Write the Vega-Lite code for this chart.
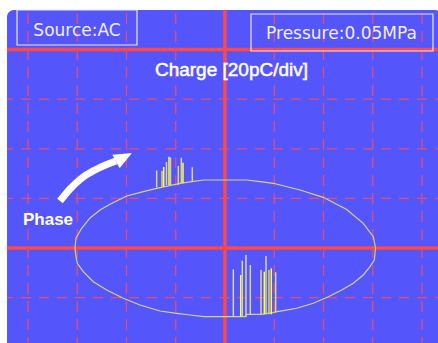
{
  "$schema": "https://vega.github.io/schema/vega-lite/v6.json",
  "width": 438,
  "height": 343,
  "autosize": {"type": "none"},
  "padding": 0,
  "background": "white",
  "config": {"view": {"stroke": null}},
  "datasets": {
    "panel": [{"x": -4.426, "x2": 4.406, "y": 95.97, "y2": -45.16}],
    "vgrid": [
      {"x": -4, "y": 95.97, "y2": -45}, {"x": -3, "y": 95.97, "y2": -45}, {"x": -2, "y": 95.97, "y2": -45},
      {"x": -1, "y": 95.97, "y2": -45}, {"x": 1, "y": 95.97, "y2": -45}, {"x": 2, "y": 95.97, "y2": -45},
      {"x": 3, "y": 95.97, "y2": -45}, {"x": 4, "y": 95.97, "y2": -45}
    ],
    "hgrid": [
      {"y": -20, "x": -4.426, "x2": 4.406}, {"y": 20, "x": -4.426, "x2": 4.406},
      {"y": 40, "x": -4.426, "x2": 4.406}, {"y": 60, "x": -4.426, "x2": 4.406}
    ],
    "axes": [
      {"x": 0, "x2": 0, "y": 95.97, "y2": -45},
      {"x": -4.426, "x2": 4.406, "y": 0, "y2": 0},
      {"x": -4.426, "x2": 4.406, "y": 80, "y2": 80}
    ],
    "trace": [
      {"i": 1, "x": -3.046, "y": 0}, {"i": 2, "x": -3.025, "y": 4.03}, {"i": 3, "x": -2.91, "y": 7.94},
      {"i": 4, "x": -2.741, "y": 12.1}, {"i": 5, "x": -2.538, "y": 15.32}, {"i": 6, "x": -2.335, "y": 17.62},
      {"i": 7, "x": -1.996, "y": 20.97}, {"i": 8, "x": -1.659, "y": 22.7}, {"i": 9, "x": -1.387, "y": 24.07},
      {"i": 10, "x": -0.914, "y": 26.09}, {"i": 11, "x": -0.676, "y": 26.73}, {"i": 12, "x": -0.426, "y": 27.42},
      {"i": 13, "x": 0.441, "y": 27.42}, {"i": 14, "x": 0.711, "y": 26.73}, {"i": 15, "x": 0.981, "y": 26.09},
      {"i": 16, "x": 1.523, "y": 23.39}, {"i": 17, "x": 1.996, "y": 20.44}, {"i": 18, "x": 2.471, "y": 15.52},
      {"i": 19, "x": 2.808, "y": 9.96}, {"i": 20, "x": 3.011, "y": 4.56}, {"i": 21, "x": 3.056, "y": 0},
      {"i": 22, "x": 3.032, "y": -4.84}, {"i": 23, "x": 2.944, "y": -7.54}, {"i": 24, "x": 2.808, "y": -10.89},
      {"i": 25, "x": 2.605, "y": -14.23}, {"i": 26, "x": 2.37, "y": -16.94}, {"i": 27, "x": 2.098, "y": -19.64},
      {"i": 28, "x": 1.793, "y": -22.3}, {"i": 29, "x": 1.456, "y": -24.31}, {"i": 30, "x": 1.184, "y": -25.28},
      {"i": 31, "x": 1.05, "y": -25.69}, {"i": 32, "x": 0.975, "y": -26.09}, {"i": 33, "x": 0.731, "y": -26.73},
      {"i": 34, "x": 0.441, "y": -26.73}, {"i": 35, "x": 0.42, "y": -27.7}, {"i": 36, "x": -0.426, "y": -27.7},
      {"i": 37, "x": -0.711, "y": -27.02}, {"i": 38, "x": -0.981, "y": -26.33}, {"i": 39, "x": -1.32, "y": -25.4},
      {"i": 40, "x": -1.726, "y": -22.98}, {"i": 41, "x": -2.065, "y": -20.28}, {"i": 42, "x": -2.402, "y": -16.94},
      {"i": 43, "x": -2.674, "y": -13.59}, {"i": 44, "x": -2.877, "y": -9.56}, {"i": 45, "x": -2.999, "y": -6.17},
      {"i": 46, "x": -3.025, "y": -3.51}, {"i": 47, "x": -3.046, "y": 0}
    ],
    "pulses": [
      {"x": -1.387, "y": 24.4, "y2": 31.25, "tone": "dim"},
      {"x": -1.279, "y": 24.72, "y2": 31.05, "tone": "dim"},
      {"x": -1.245, "y": 24.72, "y2": 32.66, "tone": "bright"},
      {"x": -1.188, "y": 25.4, "y2": 34.68, "tone": "dim"},
      {"x": -1.137, "y": 25.4, "y2": 36.81, "tone": "bright"},
      {"x": -1.107, "y": 25.4, "y2": 36.49, "tone": "dim"},
      {"x": -0.948, "y": 25.4, "y2": 33.06, "tone": "dim"},
      {"x": -0.887, "y": 26.09, "y2": 36.41, "tone": "dim"},
      {"x": -0.853, "y": 26.09, "y2": 34.4, "tone": "bright"},
      {"x": -0.664, "y": 26.73, "y2": 32.54, "tone": "dim"},
      {"x": 0.169, "y": -27.7, "y2": -8.59, "tone": "dim"},
      {"x": 0.319, "y": -27.7, "y2": -10.89, "tone": "bright"},
      {"x": 0.351, "y": -27.7, "y2": -5.12, "tone": "dim"},
      {"x": 0.426, "y": -27.7, "y2": -2.82, "tone": "dim"},
      {"x": 0.514, "y": -26.73, "y2": -6.85, "tone": "dim"},
      {"x": 0.731, "y": -26.73, "y2": -8.87, "tone": "dim"},
      {"x": 0.798, "y": -26.73, "y2": -9.56, "tone": "bright"},
      {"x": 0.833, "y": -26.73, "y2": -3.23, "tone": "dim"},
      {"x": 0.893, "y": -26.73, "y2": -8.87, "tone": "dim"},
      {"x": 0.94, "y": -26.73, "y2": -8.19, "tone": "bright"},
      {"x": 1.029, "y": -26.09, "y2": -9.8, "tone": "dim"}
    ],
    "arrow": [
      {"i": 1, "x": -3.35, "y": 18.95}, {"i": 2, "x": -3.147, "y": 23.79}, {"i": 3, "x": -2.904, "y": 28.23},
      {"i": 4, "x": -2.64, "y": 31.45}, {"i": 5, "x": -2.376, "y": 33.87}, {"i": 6, "x": -2.213, "y": 35.08}
    ],
    "head": [{"x": -2.051, "y": 36.57}],
    "boxes": [
      {"x": -4.223, "x2": -1.787, "y": 95.97, "y2": 81.85},
      {"x": 0.528, "x2": 4.223, "y": 94.35, "y2": 79.44}
    ]
  },
  "encoding": {
    "x": {"field": "x", "type": "quantitative", "scale": {"domain": [-4.5686, 4.325], "nice": false, "zero": false}, "axis": null},
    "y": {"field": "y", "type": "quantitative", "scale": {"domain": [-38.31, 100], "nice": false, "zero": false}, "axis": null}
  },
  "layer": [
    {"data": {"name": "panel"}, "mark": {"type": "rect", "color": "#5555fc", "cornerRadius": 7},
     "encoding": {"x2": {"field": "x2"}, "y2": {"field": "y2"}}},
    {"data": {"name": "vgrid"}, "mark": {"type": "rule", "color": "#ec4c6c", "strokeWidth": 1.2, "strokeDash": [11, 7], "strokeDashOffset": 15},
     "encoding": {"y2": {"field": "y2"}}},
    {"data": {"name": "hgrid"}, "mark": {"type": "rule", "color": "#ec4c6c", "strokeWidth": 1.2, "strokeDash": [10, 8], "strokeDashOffset": 4},
     "encoding": {"x2": {"field": "x2"}}},
    {"data": {"name": "axes"}, "mark": {"type": "rule", "color": "#ff4848", "strokeWidth": 3.5},
     "encoding": {"x2": {"field": "x2"}, "y2": {"field": "y2"}}},
    {"data": {"name": "trace"}, "mark": {"type": "line", "color": "#d4d47c", "strokeWidth": 1.2, "interpolate": "linear"},
     "encoding": {"order": {"field": "i", "type": "quantitative"}}},
    {"data": {"name": "pulses"}, "mark": {"type": "rule", "strokeWidth": 1.5},
     "encoding": {"y2": {"field": "y2"},
       "color": {"field": "tone", "type": "nominal", "scale": {"domain": ["bright", "dim"], "range": ["#ffff3c", "#d6d68c"]}, "legend": null}}},
    {"data": {"name": "arrow"}, "mark": {"type": "line", "color": "white", "strokeWidth": 7, "strokeCap": "butt", "interpolate": "monotone"},
     "encoding": {"order": {"field": "i", "type": "quantitative"}}},
    {"data": {"name": "head"}, "mark": {"type": "point", "shape": "M-1,-0.85L1,0L-1,0.85Z", "size": 324, "angle": -28, "filled": true, "color": "white", "opacity": 1}},
    {"data": {"values": [{"x": -3.005, "y": 87.5, "label": "Source:AC"}, {"x": 2.365, "y": 86.3, "label": "Pressure:0.05MPa"}]},
     "mark": {"type": "text", "font": "DejaVu Sans", "fontSize": 17, "color": "#eeeefc", "align": "center", "baseline": "middle"},
     "encoding": {"text": {"field": "label"}}},
    {"data": {"values": [{"x": 0.132, "y": 71.8, "label": "Charge [20pC/div]"}]},
     "mark": {"type": "text", "font": "Liberation Sans", "fontSize": 19, "fontWeight": "normal", "color": "white", "stroke": "white", "strokeWidth": 0.5, "align": "center", "baseline": "middle"},
     "encoding": {"text": {"field": "label"}}},
    {"data": {"values": [{"x": -3.594, "y": 11.3, "label": "Phase"}]},
     "mark": {"type": "text", "font": "Liberation Sans", "fontSize": 17, "fontWeight": "bold", "color": "white", "align": "center", "baseline": "middle"},
     "encoding": {"text": {"field": "label"}}},
    {"data": {"name": "boxes"}, "mark": {"type": "rect", "filled": false, "stroke": "#e8e8f8", "strokeWidth": 1.2},
     "encoding": {"x2": {"field": "x2"}, "y2": {"field": "y2"}}}
  ]
}
